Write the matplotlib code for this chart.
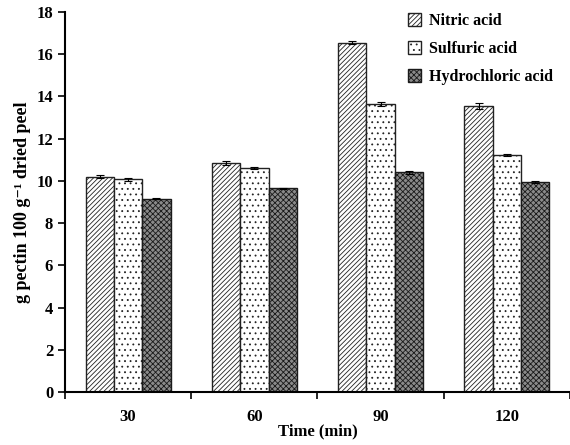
import matplotlib
matplotlib.use("Agg")
import matplotlib.pyplot as plt
import numpy as np

times = ["30", "60", "90", "120"]
nitric = [10.2, 10.85, 16.55, 13.55]
sulfuric = [10.07, 10.62, 13.65, 11.22]
hydrochloric = [9.15, 9.65, 10.4, 9.93]
nitric_err = [0.08, 0.1, 0.07, 0.12]
sulfuric_err = [0.08, 0.06, 0.08, 0.05]
hydrochloric_err = [0.03, 0.03, 0.06, 0.05]
series_names = ["Nitric acid", "Sulfuric acid", "Hydrochloric acid"]

plt.rcParams['font.family'] = ['Liberation Serif', 'DejaVu Serif']
plt.rcParams['font.weight'] = 'bold'
plt.rcParams['hatch.linewidth'] = 0.6

fig = plt.figure(figsize=(5.7, 4.45), dpi=100)
ax = fig.add_axes([0.114, 0.119, 0.886, 0.854])

x = np.arange(len(times))
w = 0.224
styles = [
    dict(facecolor='white', hatch='///////', edgecolor='#222222'),
    dict(facecolor='white', hatch='...', edgecolor='#222222'),
    dict(facecolor='#8a8a8a', hatch='xxxxxx', edgecolor='#1a1a1a'),
]
data = [nitric, sulfuric, hydrochloric]
errs = [nitric_err, sulfuric_err, hydrochloric_err]
for i, (vals, err, st, name) in enumerate(zip(data, errs, styles, series_names)):
    ax.bar(x + (i - 1) * w, vals, w, yerr=err, label=name, linewidth=1.0,
           error_kw=dict(ecolor='black', capsize=3, elinewidth=0.8, capthick=0.8), **st)

ax.set_xlim(-0.5, len(times) - 0.5)
ax.set_ylim(0, 18)
ax.set_yticks(np.arange(0, 19, 2))
ax.set_xticks(np.arange(-0.5, len(times), 1.0))
ax.set_xticklabels([])
ax.set_xticks(x, minor=True)
ax.set_xticklabels(times, minor=True, fontsize=12, fontweight='bold')
ax.tick_params(axis='x', which='minor', length=0, pad=12)
ax.tick_params(axis='x', which='major', direction='out', length=5, width=1.2)
ax.tick_params(axis='y', direction='out', length=5, width=1.2, labelsize=12)
for lbl in ax.get_yticklabels():
    lbl.set_fontweight('bold')
ax.spines['top'].set_visible(False)
ax.spines['right'].set_visible(False)
ax.spines['left'].set_linewidth(1.5)
ax.spines['bottom'].set_linewidth(1.5)

ax.set_xlabel("Time (min)", fontsize=12, fontweight='bold', labelpad=-1)
ax.set_ylabel("g pectin 100 g\u207b\u00b9 dried peel", fontsize=13, fontweight='bold', labelpad=4)

leg = ax.legend(loc='upper right', bbox_to_anchor=(0.995, 1.035), frameon=False,
                handlelength=0.8, handleheight=0.8, handletextpad=0.5, labelspacing=0.75,
                prop=dict(weight='bold', size=11.5))

fig.savefig("out.png", dpi=100)
